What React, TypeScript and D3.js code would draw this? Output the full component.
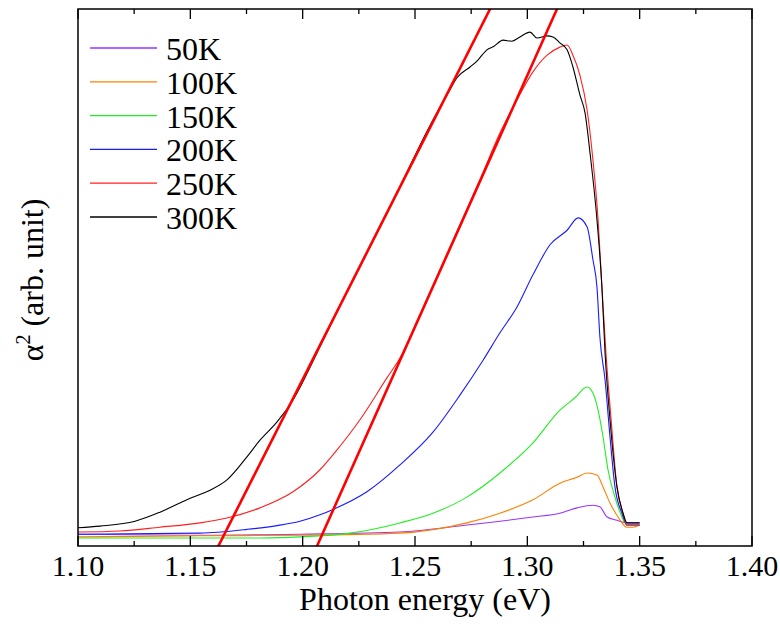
import React from "react";
import * as d3 from "d3";

// ---- data (photon energy in eV, alpha^2 in arb. unit) ----
const k50: [number, number][] = [
  [1.1, 0.022], [1.1543, 0.02], [1.1988, 0.022], [1.2433, 0.026], [1.2731, 0.039],
  [1.3025, 0.054], [1.3145, 0.061], [1.3221, 0.071], [1.3292, 0.076], [1.3323, 0.073],
  [1.3355, 0.054], [1.3399, 0.048], [1.3444, 0.043], [1.35, 0.043],
];
const k100: [number, number][] = [
  [1.1, 0.017], [1.1543, 0.019], [1.1988, 0.02], [1.2433, 0.024], [1.2731, 0.043],
  [1.2878, 0.061], [1.3025, 0.086], [1.3145, 0.117], [1.3221, 0.128], [1.3266, 0.136],
  [1.331, 0.132], [1.3337, 0.11], [1.3368, 0.08], [1.3404, 0.054], [1.3444, 0.035],
  [1.347, 0.035], [1.35, 0.039],
];
const k150: [number, number][] = [
  [1.1, 0.015], [1.181, 0.015], [1.1988, 0.017], [1.2211, 0.024], [1.2433, 0.043],
  [1.258, 0.061], [1.2731, 0.091], [1.2878, 0.136], [1.3025, 0.192], [1.3145, 0.253],
  [1.3212, 0.276], [1.3266, 0.296], [1.3292, 0.285], [1.3315, 0.253], [1.3337, 0.203],
  [1.3359, 0.142], [1.339, 0.091], [1.3421, 0.054], [1.3444, 0.039], [1.35, 0.039],
];
const k200: [number, number][] = [
  [1.1, 0.022], [1.1543, 0.024], [1.1752, 0.031], [1.1886, 0.038], [1.1988, 0.046],
  [1.2077, 0.058], [1.2135, 0.068], [1.2286, 0.101], [1.2433, 0.151], [1.258, 0.212],
  [1.27, 0.281], [1.2803, 0.346], [1.2878, 0.397], [1.2954, 0.445], [1.3025, 0.505],
  [1.3101, 0.561], [1.3177, 0.588], [1.3226, 0.611], [1.3266, 0.594], [1.3292, 0.533],
  [1.331, 0.482], [1.3323, 0.389], [1.3346, 0.309], [1.3368, 0.203], [1.339, 0.11],
  [1.3421, 0.061], [1.3444, 0.039], [1.35, 0.039],
];
const k250: [number, number][] = [
  [1.1, 0.026], [1.1187, 0.028], [1.1365, 0.035], [1.1543, 0.043], [1.1663, 0.052],
  [1.181, 0.071], [1.1957, 0.101], [1.2077, 0.142], [1.2153, 0.179], [1.2255, 0.235],
  [1.2375, 0.313], [1.2433, 0.35], [1.2522, 0.43], [1.2611, 0.514], [1.27, 0.598],
  [1.2789, 0.682], [1.2878, 0.769], [1.2954, 0.831], [1.3025, 0.883], [1.3088, 0.914],
  [1.3145, 0.929], [1.3177, 0.933], [1.3203, 0.914], [1.3234, 0.877], [1.3266, 0.812],
  [1.3292, 0.719], [1.3315, 0.607], [1.3332, 0.482], [1.335, 0.359], [1.3373, 0.235],
  [1.3399, 0.11], [1.3426, 0.061], [1.3444, 0.039], [1.35, 0.039],
];
const k300: [number, number][] = [
  [1.1, 0.034], [1.1098, 0.037], [1.1254, 0.046], [1.1365, 0.063], [1.1499, 0.089],
  [1.1588, 0.104], [1.1663, 0.123], [1.1752, 0.166], [1.181, 0.197], [1.1886, 0.231],
  [1.1957, 0.272], [1.2077, 0.371], [1.2135, 0.421], [1.2286, 0.546], [1.2433, 0.669],
  [1.2553, 0.772], [1.2656, 0.85], [1.2687, 0.872], [1.2745, 0.892], [1.278, 0.905],
  [1.28, 0.915], [1.282, 0.924], [1.285, 0.93], [1.2892, 0.942], [1.293, 0.94],
  [1.2967, 0.948], [1.3012, 0.957], [1.3043, 0.946], [1.3088, 0.95], [1.3114, 0.948],
  [1.3145, 0.937], [1.3177, 0.924], [1.3203, 0.892], [1.3234, 0.84], [1.3257, 0.806],
  [1.3279, 0.732], [1.331, 0.607], [1.3332, 0.482], [1.3346, 0.359], [1.3368, 0.235],
  [1.3399, 0.11], [1.3426, 0.061], [1.3444, 0.043], [1.35, 0.043],
];
const fitLines: [number, number][][] = [
  [[1.1625, 0], [1.2834, 1.0]],
  [[1.2064, 0], [1.3132, 1.0]],
];
const seriesNames = ["50K", "100K", "150K", "200K", "250K", "300K"];
const seriesData = [k50, k100, k150, k200, k250, k300];
const seriesColors = ["#9933ff", "#ff8000", "#22ee22", "#1a1aff", "#ff2020", "#000000"];
const xTicks = [1.1, 1.15, 1.2, 1.25, 1.3, 1.35, 1.4];
const xMinorTicks = [1.125, 1.175, 1.225, 1.275, 1.325, 1.375];

const W = 780, H = 624;
const L = 78, R = 752, T = 9, B = 546;
const FONT = "Liberation Serif, Tinos, DejaVu Serif, serif";

export default function App() {
  const x = d3.scaleLinear().domain([1.1, 1.4]).range([L, R]);
  const y = d3.scaleLinear().domain([0, 1]).range([B, T]);
  const line = d3
    .line<[number, number]>()
    .x((d) => x(d[0]))
    .y((d) => y(d[1]))
    .curve(d3.curveMonotoneX);
  const straight = d3.line<[number, number]>().x((d) => x(d[0])).y((d) => y(d[1]));
  const fitExt = (p: [number, number][]) => {
    const [a, b] = p;
    const s = (b[1] - a[1]) / (b[0] - a[0]);
    const y0 = -0.05, y1 = 1.05;
    return [[a[0] + (y0 - a[1]) / s, y0], [a[0] + (y1 - a[1]) / s, y1]] as [number, number][];
  };
  const txt = { fontFamily: FONT } as React.CSSProperties;
  return (
    <svg width={W} height={H} style={{ position: "absolute", left: 0, top: 0, background: "#fff" }}>
      <defs>
        <clipPath id="plot">
          <rect x={L} y={T} width={R - L} height={B - T} />
        </clipPath>
      </defs>
      <rect x={0} y={0} width={W} height={H} fill="#fff" />
      <g clipPath="url(#plot)" fill="none">
        {seriesData.map((d, i) => (
          <path key={i} d={line(d) || ""} stroke={seriesColors[i]} strokeWidth={1.1} />
        ))}
        {fitLines.map((f, i) => (
          <path key={"f" + i} d={straight(fitExt(f)) || ""} stroke="#ff0000" strokeWidth={2.6} />
        ))}
      </g>
      {/* ticks */}
      <g stroke="#000" strokeWidth={1.3}>
        {xTicks.map((t) => (
          <g key={"M" + t}>
            <line x1={x(t)} x2={x(t)} y1={B} y2={B - 10} />
            <line x1={x(t)} x2={x(t)} y1={T} y2={T + 10} />
          </g>
        ))}
        {xMinorTicks.map((t) => (
          <g key={"m" + t}>
            <line x1={x(t)} x2={x(t)} y1={B} y2={B - 5} />
            <line x1={x(t)} x2={x(t)} y1={T} y2={T + 5} />
          </g>
        ))}
      </g>
      <rect x={L} y={T} width={R - L} height={B - T} fill="none" stroke="#000" strokeWidth={1.5} />
      <g style={txt} fontSize={30} fill="#000" textAnchor="middle">
        {xTicks.map((t) => (
          <text key={"l" + t} x={x(t)} y={576} style={txt}>{t.toFixed(2)}</text>
        ))}
      </g>
      <text x={425} y={610} style={txt} fontSize={32} textAnchor="middle">Photon energy (eV)</text>
      <text transform={`translate(43,280) rotate(-90)`} style={txt} fontSize={32} textAnchor="middle">
        α<tspan fontSize={20} dy={-13}>2</tspan><tspan dy={13}> (arb. unit)</tspan>
      </text>
      {/* legend */}
      <g style={txt} fontSize={32}>
        {seriesNames.map((n, i) => {
          const ly = 48 + i * 33.8;
          return (
            <g key={n}>
              <line x1={90} x2={157} y1={ly} y2={ly} stroke={seriesColors[i]} strokeWidth={1.3} />
              <text x={166} y={ly + 12} style={txt}>{n}</text>
            </g>
          );
        })}
      </g>
    </svg>
  );
}
